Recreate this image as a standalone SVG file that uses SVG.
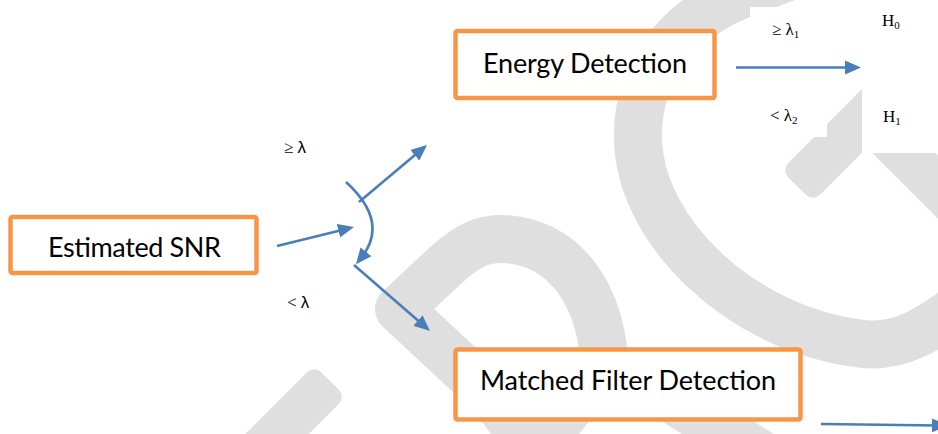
<svg xmlns="http://www.w3.org/2000/svg" width="938" height="434" viewBox="0 0 938 434">
<style>
.wm{fill:none;stroke:#dfdfdf;stroke-width:48;stroke-linejoin:round}
.wmf{fill:#dfdfdf}
.box{fill:#fff;stroke:#f79646;stroke-width:4.5}
.lbl{font-family:Lato,"Open Sans","Liberation Sans",sans-serif;font-size:27px;fill:#000;text-anchor:middle}
.conn{fill:none;stroke:#4a7ebb;stroke-width:2.6}
.math{font-family:"Liberation Serif","Times New Roman",serif;font-size:17px;fill:#000}
.sub{font-size:11px}
.gl{font-family:"Liberation Serif",serif;font-size:17px;fill:#000}
</style>
<defs>
<marker id="ah" viewBox="0 0 16 14" refX="8" refY="7" markerWidth="16" markerHeight="14" markerUnits="userSpaceOnUse" orient="auto">
<path d="M0,0 L16,7 L0,14 z" fill="#4a7ebb"/>
</marker>
</defs>
<rect width="938" height="434" fill="#fff"/>
<g id="watermark">
<rect class="wmf" x="-22.5" y="0" width="45" height="130" rx="10" transform="translate(330,381) rotate(45)"/>
<path class="wm" d="M545 445 L399 309 L445 266 C470 243 485 239 500 239 C560 239 605 290 605 380"/>
<polygon class="wmf" points="466,400 606,400 579,434 491,434"/>
<polygon class="wmf" points="628,400 720,400 774,434 682,434"/>
<path class="wm" d="M820 -35 L740 -5 C680 20 636 70 638 140 C640 230 740 330 863 344 C900 348 930 330 975 295"/>
<rect class="wmf" x="-22.5" y="0" width="45" height="150" rx="10" transform="translate(797,186) rotate(-135)"/>
<path d="M870 119 L1010 259" stroke="#dfdfdf" stroke-width="45" fill="none"/>
<rect x="750" y="7" width="112" height="78" fill="#fff"/>
<rect x="750" y="92" width="77" height="45" fill="#fff"/>
<rect x="862" y="0" width="76" height="153" fill="#fff"/>
</g>
<g id="estimated-snr">
<rect class="box" x="10.5" y="217" width="246" height="56" rx="2"/>
<text class="lbl" x="134.5" y="257" textLength="173">Estimated SNR</text>
</g>
<g id="energy-detection">
<rect class="box" x="455.5" y="31" width="259" height="67" rx="2"/>
<text class="lbl" x="585" y="73" textLength="204">Energy Detection</text>
</g>
<g id="matched-filter-detection">
<rect class="box" x="455.5" y="349.5" width="345" height="70" rx="2"/>
<text class="lbl" x="628" y="390" textLength="296">Matched Filter Detection</text>
</g>
<g id="connectors">
<path class="conn" d="M277 246 L346.2 228.9" marker-end="url(#ah)"/>
<path class="conn" d="M346 182 Q390 222 361 258" marker-end="url(#ah)"/>
<path class="conn" d="M359 202 L420.9 150.1" marker-end="url(#ah)"/>
<path class="conn" d="M354 265 L424 325.8" marker-end="url(#ah)"/>
<path class="conn" d="M736 67.5 L853 67.5" marker-end="url(#ah)"/>
<path class="conn" d="M821 424 L940 425.5" marker-end="url(#ah)"/>
</g>
<g id="labels">
<text class="gl" x="284" y="153">≥ <tspan font-family="'Liberation Sans',sans-serif">λ</tspan></text>
<text class="gl" x="287" y="308">&lt; <tspan font-family="'Liberation Sans',sans-serif">λ</tspan></text>
<text class="math" x="772" y="35">≥ λ<tspan class="sub" dy="3">1</tspan></text>
<text class="math" x="770" y="121">&lt; λ<tspan class="sub" dy="3">2</tspan></text>
<text class="math" x="882" y="26">H<tspan class="sub" dy="3">0</tspan></text>
<text class="math" x="883" y="122">H<tspan class="sub" dy="3">1</tspan></text>
</g>
</svg>
